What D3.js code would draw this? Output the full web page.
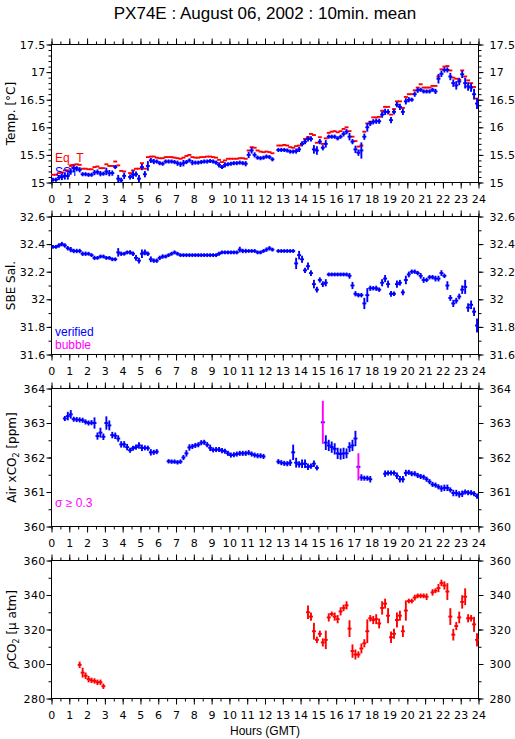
<!DOCTYPE html>
<html><head><meta charset="utf-8">
<script src="https://cdn.jsdelivr.net/npm/d3@7"></script>
<style>
body{margin:0;background:#fff}
</style>
</head><body>
<svg id="chart" width="515" height="739" style="font-family:'Liberation Sans',Arial,Helvetica,sans-serif"></svg>
<script>
// ---------------- DATA (10-minute means, 6 slots per hour, null = no data) ----------------
const titleText = "PX74E : August 06, 2002 : 10min. mean";
const hourTicks = [0,1,2,3,4,5,6,7,8,9,10,11,12,13,14,15,16,17,18,19,20,21,22,23,24];
const slotMinutes = 10;

const tempTicks = [15, 15.5, 16, 16.5, 17, 17.5];
const salTicks  = [31.6, 31.8, 32, 32.2, 32.4, 32.6];
const airTicks  = [360, 361, 362, 363, 364];
const pco2Ticks = [280, 300, 320, 340, 360];

const sst = [
 15.05,15.05,15.09,15.10,15.12,15.12,
 15.20,15.26,15.25,15.23,15.15,15.15,
 15.14,15.14,15.18,15.19,15.16,15.16,
 15.20,15.17,15.17,15.28,15.07,15.04,
 15.12,null ,15.10,15.14,15.15,15.07,
 15.28,15.15,15.30,15.40,15.38,15.38,
 15.35,15.34,15.38,15.38,15.38,15.37,
 15.35,15.33,15.35,15.37,15.40,15.36,
 15.36,15.36,15.37,15.38,15.38,15.39,
 15.38,15.36,15.32,15.28,15.32,15.33,
 15.34,15.35,15.35,15.36,15.35,15.34,
 15.50,15.58,15.50,15.45,15.44,15.45,
 15.47,15.46,15.42,null ,15.59,15.59,
 15.59,15.58,15.56,15.56,15.57,15.60,
 15.70,15.74,15.79,15.79,15.60,15.58,
 15.74,15.63,15.70,15.83,15.83,15.83,
 15.80,15.83,15.88,15.92,15.83,15.74,
 15.60,15.54,15.58,15.83,16.00,16.07,
 16.10,16.11,16.11,16.23,16.28,16.28,
 16.13,16.28,16.41,16.37,16.28,16.47,
 16.50,16.50,16.60,16.67,16.68,16.65,
 16.65,16.65,16.68,16.65,16.88,16.97,
 17.04,17.04,16.92,16.80,16.76,16.83,
 16.96,16.80,16.74,16.72,16.60,16.43
];
const sstSd = [
 .01,.01,.02,.03,.04,.04,  .03,.05,.02,.02,.01,.01,  .01,.01,.02,.02,.02,.01,
 .04,.03,.02,.01,.04,.02,  .03,0,.02,.05,.02,.04,    .03,.03,.06,.02,.02,.01,
 .01,.01,.01,.01,.01,.01,  .02,.02,.03,.01,.01,.02,  .01,.01,.01,.01,.01,.01,
 .01,.01,.02,.01,.02,.01,  .01,.01,.01,.01,.01,.02,  .03,.03,.02,.01,.01,.01,
 .01,.01,.01,0,.01,.01,    .01,.01,.01,.01,.02,.02,  .02,.02,.02,.02,.05,.05,
 .02,.02,.04,.01,.01,.01,  .01,.01,.02,.02,.04,.02,  .04,.03,.12,.03,.05,.02,
 .02,.02,.02,.03,.03,.02,  .03,.02,.02,.03,.03,.03,  .02,.01,.02,.02,.01,.01,
 .01,.01,.01,.02,.06,.03,  .02,.02,.04,.04,.05,.04,  .04,.07,.05,.05,.07,.07
];
const eqT = [
 15.14,15.14,15.17,15.18,15.22,15.22,
 15.30,15.32,15.33,15.32,15.25,15.25,
 15.24,15.24,15.28,15.29,15.26,15.26,
 15.33,15.30,15.30,15.38,15.31,15.21,
 15.20,null ,15.17,15.22,15.25,15.25,
 15.35,15.25,15.46,15.47,15.47,15.45,
 15.44,15.44,15.46,15.46,15.46,15.45,
 15.44,15.43,15.45,15.48,15.50,15.46,
 15.45,15.45,15.46,15.46,15.47,15.47,
 15.46,15.45,15.41,15.37,15.40,15.43,
 15.43,15.43,15.43,15.44,15.44,15.43,
 15.58,15.64,15.63,15.58,15.56,15.55,
 15.56,15.55,15.53,null ,15.67,15.67,
 15.68,15.67,15.64,15.63,15.66,15.67,
 15.70,15.79,15.82,15.88,15.86,15.72,
 15.82,15.70,15.80,15.90,15.92,15.93,
 15.91,15.93,15.97,16.00,15.93,15.83,
 15.75,15.65,15.67,15.92,16.07,16.10,
 16.18,16.18,16.19,16.30,16.37,16.37,
 16.23,16.33,16.47,16.47,16.35,16.55,
 16.60,16.60,16.67,16.72,16.78,16.72,
 16.72,16.72,16.75,16.75,16.92,17.05,
 17.10,17.11,17.03,16.90,16.88,16.86,
 17.03,16.92,16.85,16.80,16.73,16.52
];
const sal = [
 32.38,32.38,32.39,32.40,32.39,32.37,
 32.36,32.35,32.35,32.35,32.33,32.33,
 32.33,32.32,32.30,32.30,32.31,32.31,
 32.30,32.30,32.29,32.29,32.34,32.33,
 32.33,32.34,32.34,32.33,32.30,32.28,
 32.33,32.34,32.33,32.29,32.28,32.28,
 32.30,32.31,32.31,32.32,32.33,32.34,
 32.33,32.32,32.32,32.32,32.32,32.32,
 32.32,32.32,32.32,32.32,32.32,32.32,
 32.32,32.32,32.33,32.34,32.34,32.34,
 32.34,32.34,32.34,32.36,32.35,32.35,
 32.35,32.35,32.35,32.34,32.34,32.35,
 32.36,32.37,32.36,null ,32.35,32.35,
 32.35,32.35,32.35,32.35,32.26,32.32,
 32.29,32.21,32.24,32.19,32.11,32.07,
 32.14,32.11,32.12,32.18,32.18,32.18,
 32.18,32.18,32.18,32.18,32.17,32.10,
 32.04,32.03,32.03,31.97,32.03,32.08,
 32.08,32.08,32.07,32.12,32.15,32.11,
 32.04,32.04,32.11,32.12,32.05,32.14,
 32.18,32.20,32.20,32.19,32.17,32.14,
 32.14,32.16,32.16,32.15,32.15,32.19,
 32.17,32.10,32.01,31.97,31.99,32.02,
 32.07,32.09,31.94,31.96,31.91,31.81
];
const salSd = [
 .003,.003,.005,.005,.005,.005,  .008,.005,.005,.005,.005,.005,  .003,.003,.005,.003,.003,.003,
 .003,.003,.003,.003,.02,.005,   .003,.003,.005,.005,.01,.01,    .02,.01,.005,.01,.005,.005,
 .005,.005,.003,.003,.003,.003,  .003,.003,.003,.003,.003,.003,  .003,.003,.003,.003,.003,.003,
 .003,.003,.003,.003,.003,.003,  .003,.003,.003,.01,.005,.005,   .003,.003,.003,.003,.003,.003,
 .005,.005,.003,0,.003,.003,     .003,.003,.003,.003,.03,.02,    .015,.008,.015,.01,.02,.01,
 .008,.01,.015,.003,.003,.003,   .003,.003,.003,.003,.01,.015,   .008,.005,.005,.03,.04,.008,
 .005,.008,.005,.015,.015,.015,  .01,.005,.015,.01,.01,.02,      .01,.005,.005,.005,.01,.01,
 .005,.005,.005,.01,.01,.01,     .005,.02,.01,.015,.01,.01,      .02,.04,.02,.02,.02,.04
];
const air = [
 null,null,null,null,363.13,363.20,
 363.25,363.11,363.10,363.09,363.08,363.03,
 363.00,363.01,363.00,362.62,362.72,362.60,
 363.00,362.93,362.65,362.63,362.55,362.38,
 362.38,362.30,362.21,362.27,362.30,362.35,
 362.28,362.28,362.27,362.15,362.15,362.17,
 null,null,null,361.89,361.88,361.88,
 361.86,361.88,362.00,362.12,362.29,362.32,
 362.35,362.37,362.43,362.44,362.37,362.28,
 362.22,362.23,362.23,362.20,362.18,362.12,
 362.07,362.08,362.10,362.12,362.12,362.12,
 362.14,362.10,362.07,362.05,362.05,362.03,
 null,null,null,null,361.88,361.85,
 361.83,361.82,361.85,362.15,361.85,361.80,
 361.82,361.82,361.73,361.75,361.82,361.70,
 null,363.02,362.43,362.35,362.30,362.25,
 362.12,362.10,362.12,362.12,362.30,362.35,
 362.55,361.73,361.42,361.40,361.40,361.37,
 null,null,null,null,361.53,361.55,
 361.55,361.55,361.47,361.37,361.37,361.55,
 361.57,361.53,361.53,361.48,361.45,361.43,
 361.37,361.30,361.22,361.20,361.15,361.10,
 361.12,361.12,361.06,360.97,360.97,360.93,
 360.95,361.00,360.98,360.98,360.95,360.88
];
const airSd = [
 0,0,0,0,.03,.08,        .08,.03,.03,.03,.03,.03,   .03,.03,.12,.06,.10,.05,
 .15,.10,.05,.05,.05,.05, .05,.05,.03,.03,.03,.05,   .05,.03,.03,.05,.03,.03,
 0,0,0,.02,.02,.02,      .02,.02,.03,.05,.05,.03,   .03,.03,.03,.03,.03,.05,
 .03,.03,.03,.03,.03,.03, .03,.03,.03,.03,.03,.03,   .03,.03,.03,.03,.03,.03,
 0,0,0,0,.03,.03,        .03,.03,.05,.18,.10,.05,   .08,.08,.05,.03,.05,.03,
 0,.58,.17,.12,.12,.12,  .12,.12,.12,.10,.10,.12,   .18,.35,.05,.03,.03,.05,
 0,0,0,0,.05,.03,        .03,.03,.05,.05,.05,.05,   .03,.03,.03,.03,.03,.03,
 .03,.03,.03,.03,.03,.05, .05,.05,.03,.05,.05,.05,   .05,.03,.03,.03,.03,.03
];
const pco2 = [
 null,null,null,null,null,null,
 null,null,null,299.5,295.0,293.2,
 291.2,290.5,290.2,289.4,289.4,287.1,
 null,null,null,null,null,null,
 null,null,null,null,null,null,
 null,null,null,null,null,null,
 null,null,null,null,null,null,
 null,null,null,null,null,null,
 null,null,null,null,null,null,
 null,null,null,null,null,null,
 null,null,null,null,null,null,
 null,null,null,null,null,null,
 null,null,null,null,null,null,
 null,null,null,null,null,null,
 null,null,330.0,327.5,319.0,314.0,
 317.5,312.5,314.0,327.0,329.0,327.5,
 326.0,330.5,332.5,334.0,320.5,307.5,
 305.5,305.5,309.0,312.0,319.0,326.5,
 325.5,326.0,323.5,332.5,335.0,328.0,
 315.5,317.5,325.5,328.0,319.0,331.0,
 336.5,336.5,338.5,339.5,339.5,339.5,
 339.0,null,341.5,342.5,344.0,347.0,
 345.5,342.0,327.5,317.0,322.0,327.0,
 336.0,339.0,326.5,326.5,323.0,314.0
];
const pco2Sd = [
 0,0,0,0,0,0,  0,0,0,1.0,2.0,1.0,  1.0,0.7,0.7,0.7,0.7,0.7,
 0,0,0,0,0,0,  0,0,0,0,0,0,  0,0,0,0,0,0,
 0,0,0,0,0,0,  0,0,0,0,0,0,  0,0,0,0,0,0,
 0,0,0,0,0,0,  0,0,0,0,0,0,  0,0,0,0,0,0,
 0,0,0,0,0,0,  0,0,0,0,0,0,  0,0,3.0,1.5,4.0,1.0,
 1.0,1.5,4.5,1.5,0.5,1.5,  1.5,1.5,1.0,1.5,4.0,3.0,  2.0,1.0,2.0,1.5,6.0,1.0,
 1.5,2.0,2.0,3.0,2.0,3.5,  2.5,2.0,3.5,2.0,2.5,5.0,  0.5,0.5,0.8,0.5,0.5,0.5,
 1.0,0,1.0,0.5,1.5,1.0,    1.5,4.0,4.0,2.5,1.5,2.5,  3.0,4.0,1.5,1.0,3.5,3.0
];

// ---------------- LAYOUT ----------------
const svg = d3.select("#chart");
const X0 = 51.5, X1 = 478.5;
const panelTops = [44.5, 216.5, 388.5, 560.5];
const panelH = 138;
const BLUE = "#0000ff", RED = "#ff0000", MAG = "#ff00ff";
const TICKFONT = "'DejaVu Sans',Verdana,sans-serif";

const x = d3.scaleLinear().domain([0, 24]).range([X0, X1]);
const slotHours = slotMinutes / 60;
const slotTime = i => (i + 0.5) * slotHours;

svg.append("text").attr("x", 265).attr("y", 19).attr("text-anchor", "middle")
   .attr("font-size", 17).text(titleText);

const panels = [
  {domain:[15,17.5], ticks:tempTicks, minor:0.1, lx:15, label:[{t:"Temp. [°C]"}]},
  {domain:[31.6,32.6], ticks:salTicks, minor:0.1, lx:15, label:[{t:"SBE Sal."}]},
  {domain:[360,364], ticks:airTicks, minor:0.5, lx:16, label:[{t:"Air xCO"},{t:"2",sub:true},{t:" [ppm]",after:true}]},
  {domain:[280,360], ticks:pco2Ticks, minor:10, lx:16, label:[{t:"ρ",it:true},{t:"CO"},{t:"2",sub:true},{t:" [µ atm]",after:true}]}
];

const minorHours = d3.range(0, 49).map(d => d / 2);

panels.forEach((p, pi) => {
  const top = panelTops[pi], bot = top + panelH;
  const y = d3.scaleLinear().domain(p.domain).range([bot, top]);
  p.y = y;
  const g = svg.append("g");
  const nMinor = Math.round((p.domain[1] - p.domain[0]) / p.minor);
  const minorVals = d3.range(0, nMinor + 1).map(k => p.domain[0] + k * p.minor);

  const styleAxis = sel => {
    sel.select(".domain").remove();
    sel.selectAll("line").attr("stroke", "#000").attr("stroke-width", 1);
    sel.selectAll("text").attr("fill", "#000")
       .style("font-size", "11px").style("letter-spacing", "0.3px").style("font-family", TICKFONT);
  };
  // bottom axis (labels)
  g.append("g").attr("transform", `translate(0,${bot})`)
    .call(d3.axisBottom(x).tickValues(minorHours).tickSize(3).tickFormat(""))
    .call(styleAxis);
  g.append("g").attr("transform", `translate(0,${bot})`)
    .call(d3.axisBottom(x).tickValues(hourTicks).tickSize(6).tickPadding(7).tickFormat(d3.format("d")))
    .call(styleAxis);
  // top axis
  g.append("g").attr("transform", `translate(0,${top})`)
    .call(d3.axisTop(x).tickValues(minorHours).tickSize(3).tickFormat(""))
    .call(styleAxis);
  g.append("g").attr("transform", `translate(0,${top})`)
    .call(d3.axisTop(x).tickValues(hourTicks).tickSize(6).tickFormat(""))
    .call(styleAxis);
  // left axis
  g.append("g").attr("transform", `translate(${X0},0)`)
    .call(d3.axisLeft(y).tickValues(minorVals).tickSize(3).tickFormat(""))
    .call(styleAxis);
  g.append("g").attr("transform", `translate(${X0},0)`)
    .call(d3.axisLeft(y).tickValues(p.ticks).tickSize(5).tickPadding(1).tickFormat(d => String(d)))
    .call(styleAxis);
  // right axis
  g.append("g").attr("transform", `translate(${X1},0)`)
    .call(d3.axisRight(y).tickValues(minorVals).tickSize(3).tickFormat(""))
    .call(styleAxis);
  g.append("g").attr("transform", `translate(${X1},0)`)
    .call(d3.axisRight(y).tickValues(p.ticks).tickSize(5).tickPadding(6).tickFormat(d => String(d)))
    .call(styleAxis);
  // frame
  g.append("rect").attr("x", X0).attr("y", top).attr("width", X1 - X0).attr("height", panelH)
    .attr("fill", "none").attr("stroke", "#000").attr("stroke-width", 1);
  // y label
  const lt = g.append("text").attr("transform", `translate(${p.lx},${(top + bot) / 2}) rotate(-90)`)
    .attr("text-anchor", "middle").style("font-size", "12px").style("font-family", TICKFONT);
  p.label.forEach(s => {
    const ts = lt.append("tspan").text(s.t);
    if (s.sub) ts.style("font-size", "8px").attr("dy", 3);
    if (s.after) ts.attr("dy", -3);
    if (s.it) ts.style("font-style", "italic");
  });
});

// ---------------- MARKS ----------------
function drawSeries(panel, values, sds, color, opts = {}) {
  const y = panel.y;
  const pts = values.map((v, i) => ({t: slotTime(i), v, sd: sds ? sds[i] : 0})).filter(d => d.v !== null);
  const g = svg.append("g");
  g.selectAll("line.h").data(pts).enter().append("line")
    .attr("x1", d => x(d.t - slotHours / 2) - 0.5).attr("x2", d => x(d.t + slotHours / 2) + 0.5)
    .attr("y1", d => y(d.v)).attr("y2", d => y(d.v))
    .attr("stroke", color).attr("stroke-width", 1.9);
  if (sds) {
    g.selectAll("line.v").data(pts.filter(d => d.sd > 0)).enter().append("line")
      .attr("x1", d => x(d.t)).attr("x2", d => x(d.t))
      .attr("y1", d => y(d.v - d.sd) + 1.5).attr("y2", d => y(d.v + d.sd) - 1.5)
      .attr("stroke", d => (opts.flag !== undefined && d.sd >= opts.flag) ? MAG : color)
      .attr("stroke-width", 1.9);
  }
}
drawSeries(panels[0], eqT, null, RED);
drawSeries(panels[0], sst, sstSd, BLUE);
drawSeries(panels[1], sal, salSd, BLUE);
drawSeries(panels[2], air, airSd, BLUE, {flag: 0.3});
drawSeries(panels[3], pco2, pco2Sd, RED);

// ---------------- LEGENDS ----------------
const leg = (tx, ty, t, c) => svg.append("text").attr("x", tx).attr("y", ty).attr("font-size", 12).attr("fill", c).text(t);
leg(55, 162, "Eq_T", RED);
leg(55, 176, "SST", BLUE);
leg(55, 336, "verified", BLUE);
leg(55, 349, "bubble", MAG);
leg(55, 507, "σ ≥ 0.3", MAG);

svg.append("text").attr("x", 265).attr("y", 735).attr("text-anchor", "middle")
   .attr("font-size", 12).text("Hours (GMT)");
</script>
</body></html>
